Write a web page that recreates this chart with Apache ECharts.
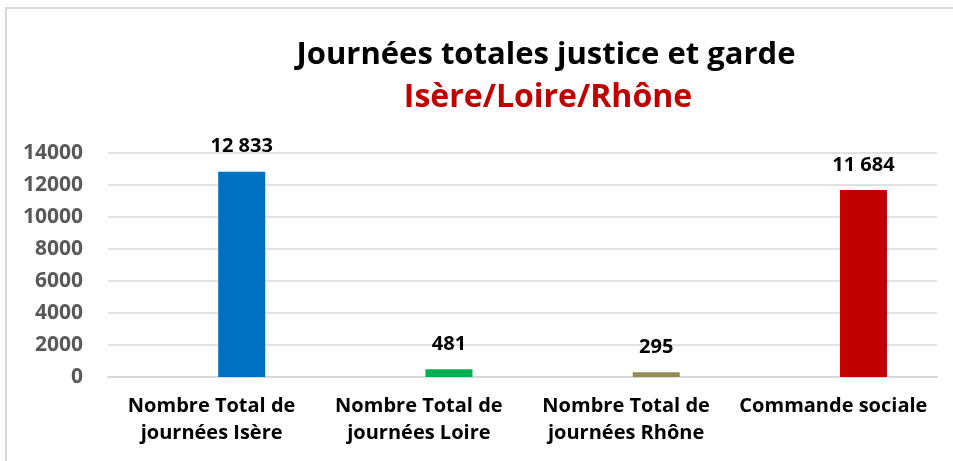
<!DOCTYPE html>
<html>
<head>
<meta charset="utf-8">
<script src="https://cdn.jsdelivr.net/npm/echarts@6/dist/echarts.min.js"></script>
<style>
html,body{margin:0;padding:0;background:#fff;}
#chart{width:953px;height:461px;}
</style>
</head>
<body>
<div id="chart"></div>
<script>
const categories = [
  "Nombre Total de\njournées Isère",
  "Nombre Total de\njournées Loire",
  "Nombre Total de\njournées Rhône",
  "Commande sociale"
];
const values = [12833, 481, 295, 11684];
const barColors = ["#0070C0", "#00B050", "#948A54", "#C00000"];
const placeholder = [null, null, null, null];
const yMin = 0, yMax = 14000, yInterval = 2000;

const chart = echarts.init(document.getElementById('chart'));
const fmt = v => String(v).replace(/\B(?=(\d{3})+(?!\d))/g, ' ');
const FONT = '"Open Sans"';

chart.setOption({
  backgroundColor: '#ffffff',
  animation: false,
  graphic: [{
    type: 'rect',
    shape: { x: 6, y: 8, width: 1000, height: 500 },
    style: { fill: 'none', stroke: '#D9D9D9', lineWidth: 2 },
    silent: true, z: -1
  }],
  title: [
    {
      text: 'Journées totales justice et garde',
      left: 541, top: 35, textAlign: 'center',
      textStyle: { fontFamily: FONT, fontWeight: 'bold', fontSize: 31, color: '#000000' }
    },
    {
      text: 'Isère/Loire/Rhône',
      left: 543, top: 77, textAlign: 'center',
      textStyle: { fontFamily: FONT, fontWeight: 'bold', fontSize: 32, color: '#C00000' }
    }
  ],
  grid: { left: 108, right: 16, top: 153, bottom: 84, containLabel: false },
  xAxis: {
    type: 'category',
    data: categories,
    axisLine: { show: true, lineStyle: { color: '#D9D9D9', width: 2 } },
    axisTick: { show: false },
    axisLabel: {
      interval: 0, margin: 16,
      fontFamily: FONT, fontWeight: 'bold', fontSize: 20, lineHeight: 27, color: '#000000'
    }
  },
  yAxis: {
    type: 'value',
    min: yMin, max: yMax, interval: yInterval,
    axisLine: { show: false },
    axisTick: { show: false },
    splitLine: { lineStyle: { color: '#D9D9D9', width: 1.5 } },
    axisLabel: {
      margin: 25,
      formatter: v => String(v),
      fontFamily: FONT, fontWeight: 'bold', fontSize: 21, color: '#595959'
    }
  },
  series: [
    {
      type: 'bar',
      data: placeholder,
      barWidth: 47,
      silent: true
    },
    {
      type: 'bar',
      data: values.map((v, i) => ({ value: v, itemStyle: { color: barColors[i] } })),
      barWidth: 47,
      barGap: '28%',
      label: {
        show: true, position: 'top', distance: 15,
        formatter: p => fmt(p.value),
        fontFamily: FONT, fontWeight: 'bold', fontSize: 20, color: '#000000'
      }
    }
  ]
});
</script>
</body>
</html>
